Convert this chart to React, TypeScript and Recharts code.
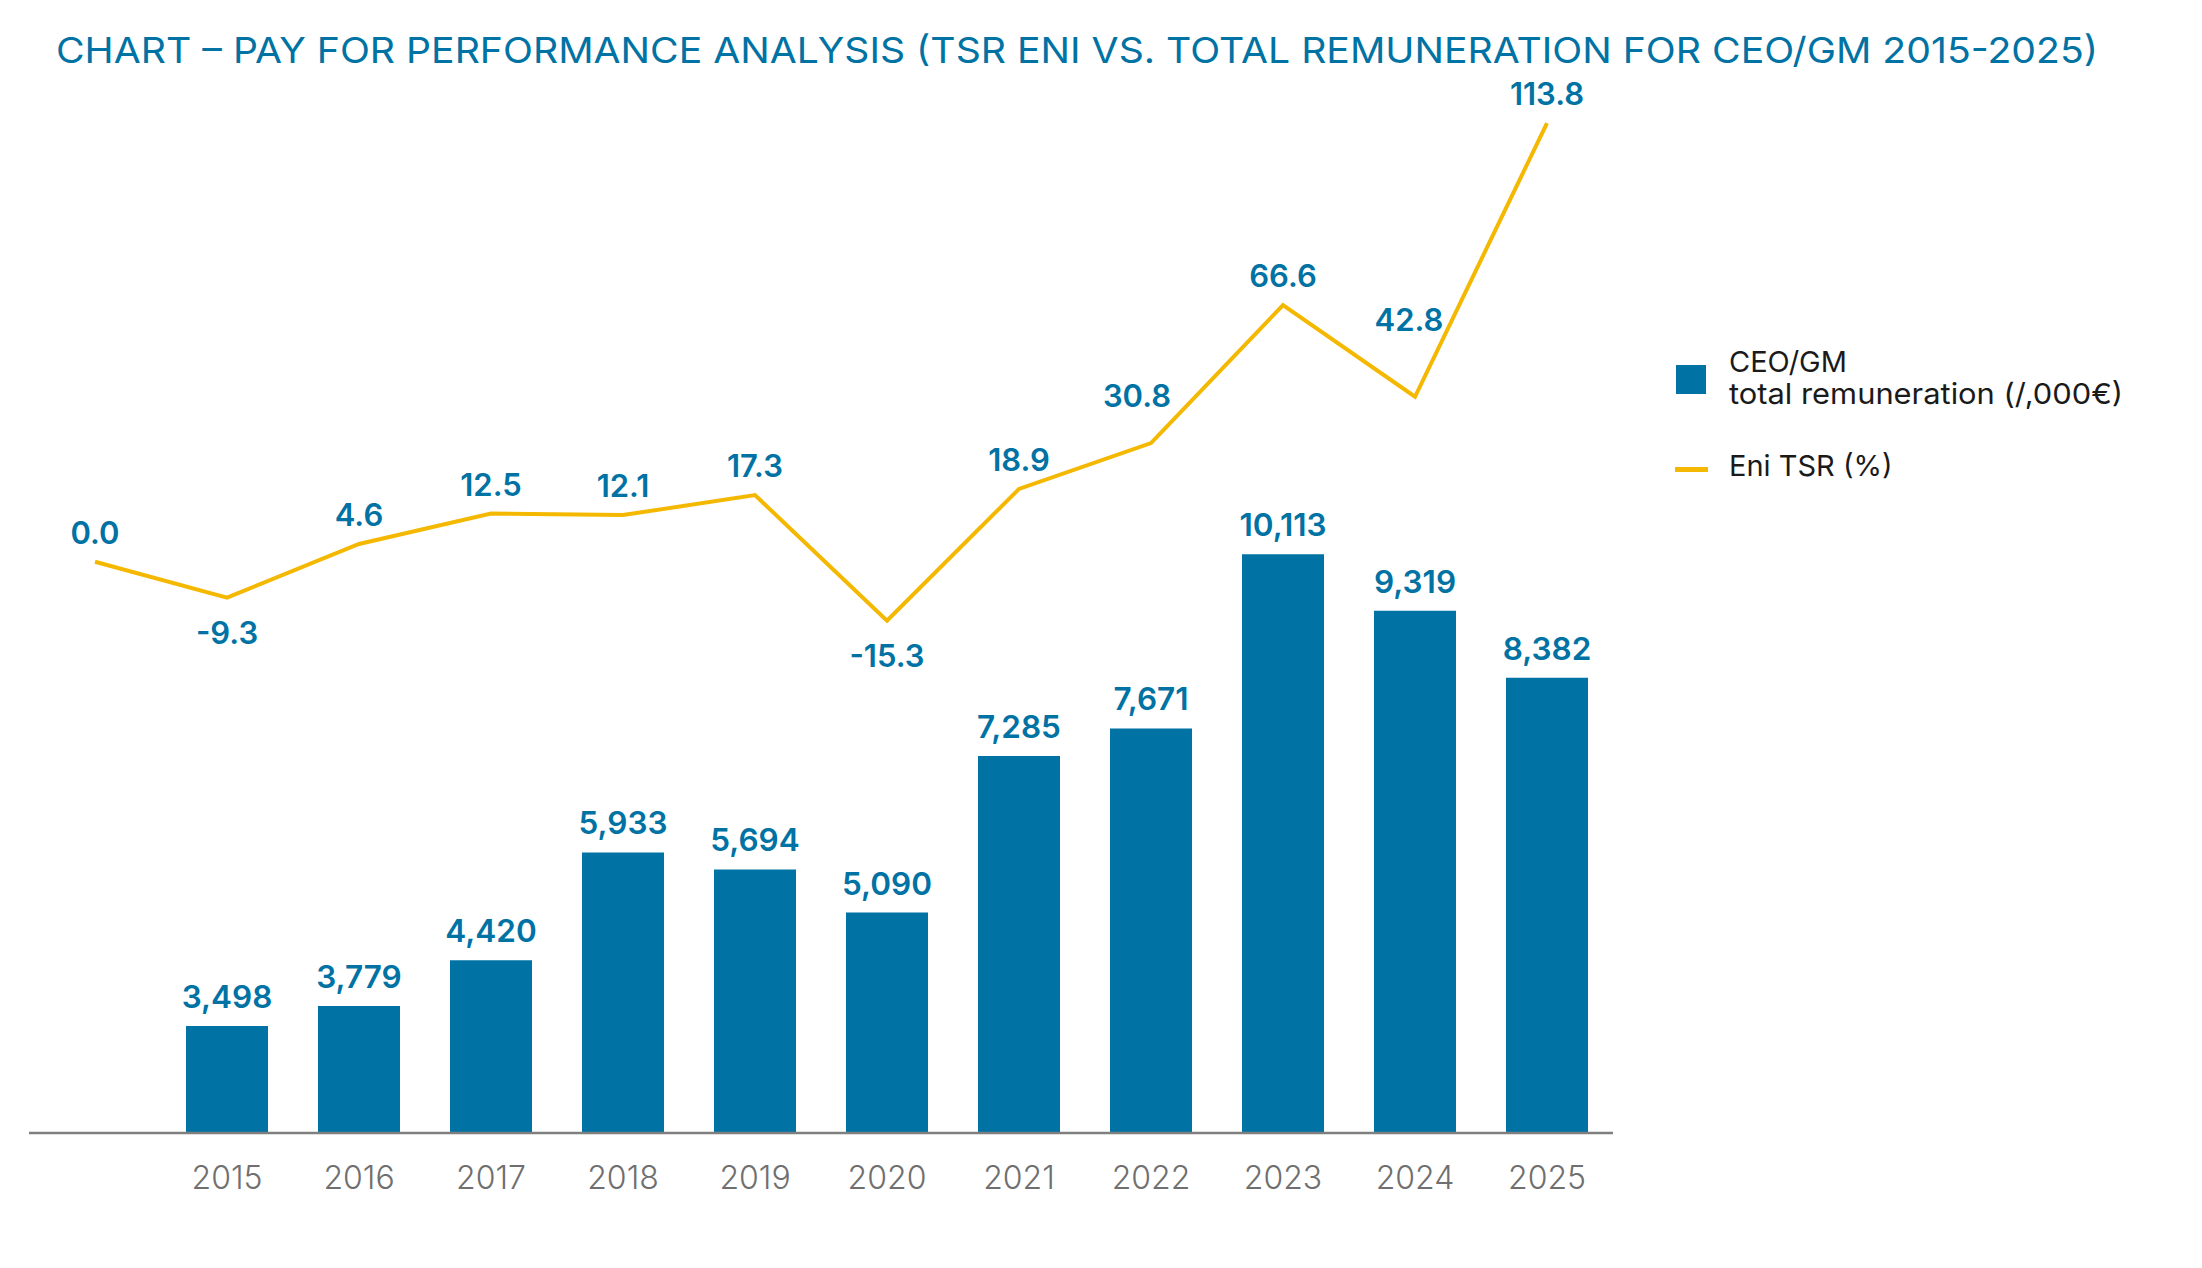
import React from 'react';
import { ComposedChart, Bar, Line, XAxis, YAxis, LabelList } from 'recharts';

const years = ['2014', '2015', '2016', '2017', '2018', '2019', '2020', '2021', '2022', '2023', '2024', '2025'];
const tickLabels = ['', '2015', '2016', '2017', '2018', '2019', '2020', '2021', '2022', '2023', '2024', '2025'];
const remuneration = [null, 3498, 3779, 4420, 5933, 5694, 5090, 7285, 7671, 10113, 9319, 8382];
const tsr = [0.0, -9.3, 4.6, 12.5, 12.1, 17.3, -15.3, 18.9, 30.8, 66.6, 42.8, 113.8];

const title = 'CHART \u2013 PAY FOR PERFORMANCE ANALYSIS (TSR ENI VS. TOTAL REMUNERATION FOR CEO/GM 2015-2025)';
const legendBar = ['CEO/GM', 'total remuneration (/,000\u20ac)'];
const legendLine = 'Eni TSR (%)';

const BLUE = '#0072A3';
const GOLD = '#F5B800';
const FONT = 'Inter, "Noto Sans", sans-serif';

const data = years.map((y, i) => ({ year: y, rem: remuneration[i], tsr: tsr[i] }));

const Tick = (props: any) => {
  const { x, y, payload, index } = props;
  return (
    <text x={x} y={y + 56} textAnchor="middle" fontFamily={FONT} fontSize={32} fontWeight={300} fill="#6f6f6f">
      {tickLabels[index] ?? payload.value}
    </text>
  );
};

const TsrLabel = (props: any) => {
  const { x, y, value, index } = props;
  if (x == null || y == null) return null;
  let tx = x;
  let ty = value < 0 ? y + 46 : y - 18;
  if (index === 8) { tx = x - 14; ty = y - 36; }
  if (index === 10) { tx = x - 6; ty = y - 66; }
  return (
    <text x={tx} y={ty} textAnchor="middle" fontFamily={FONT} fontSize={31} fontWeight={600} fill={BLUE}>
      {Number(value).toFixed(1)}
    </text>
  );
};

export default function App() {
  return (
    <div style={{ position: 'absolute', left: 0, top: 0, width: 2202, height: 1268, background: '#fff' }}>
      <svg style={{ position: 'absolute', left: 0, top: 0 }} width={2202} height={90}>
        <text x={56} y={63} fontFamily={FONT} fontSize={36} fontWeight={400} fill={BLUE} textLength={2042} lengthAdjust="spacingAndGlyphs">
          {title}
        </text>
      </svg>
      <svg style={{ position: 'absolute', left: 1660, top: 340 }} width={480} height={150}>
        <rect x={16} y={25} width={30} height={29} fill={BLUE} />
        <text x={69} y={32} fontFamily={FONT} fontSize={29} fill="#1a1a1a">{legendBar[0]}</text>
        <text x={69} y={64} fontFamily={FONT} fontSize={29} fill="#1a1a1a" textLength={394} lengthAdjust="spacingAndGlyphs">{legendBar[1]}</text>
        <line x1={15} x2={48} y1={129.5} y2={129.5} stroke={GOLD} strokeWidth={5} />
        <text x={69} y={136} fontFamily={FONT} fontSize={29} fill="#1a1a1a">{legendLine}</text>
      </svg>
      <div style={{ position: 'absolute', left: 0, top: 0 }}>
        <ComposedChart width={2202} height={1268} data={data} margin={{ top: 120, left: 29, right: 589, bottom: 75 }}>
          <XAxis
            dataKey="year"
            interval={0}
            height={60}
            tickLine={false}
            tickSize={0}
            tickMargin={0}
            axisLine={{ stroke: '#7f7f7f', strokeWidth: 2.5 }}
            tick={<Tick />}
          />
          <YAxis yAxisId="bar" hide domain={[2000, 16198]} allowDataOverflow />
          <YAxis yAxisId="tsr" hide domain={[-148.2, 114.6]} allowDataOverflow />
          <Bar yAxisId="bar" dataKey="rem" fill={BLUE} barSize={82} isAnimationActive={false}>
            <LabelList
              dataKey="rem"
              position="top"
              offset={18}
              fontFamily={FONT}
              fontSize={31.5}
              fontWeight={600}
              fill={BLUE}
              formatter={(v: any) => (v == null ? '' : Number(v).toLocaleString('en-US'))}
            />
          </Bar>
          <Line yAxisId="tsr" dataKey="tsr" stroke={GOLD} strokeWidth={4} dot={false} activeDot={false} isAnimationActive={false}>
            <LabelList dataKey="tsr" content={<TsrLabel />} />
          </Line>
        </ComposedChart>
      </div>
    </div>
  );
}
